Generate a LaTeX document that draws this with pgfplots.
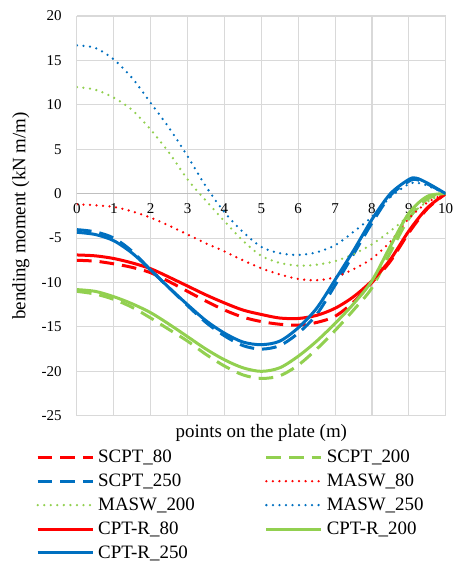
\documentclass[border=0pt]{standalone}
\usepackage{fontspec}
\setmainfont{Liberation Serif}
\usepackage{pgfplots}
\pgfplotsset{compat=1.18}
\definecolor{cred}{RGB}{255,0,0}
\definecolor{cgreen}{RGB}{146,208,80}
\definecolor{cblue}{RGB}{0,112,192}
\definecolor{cgrid}{RGB}{217,217,217}
\definecolor{caxis}{RGB}{191,191,191}
\begin{document}
\begin{tikzpicture}
\begin{axis}[
  scale only axis,
  width=276.75pt, height=300pt,
  xmin=0, xmax=10, ymin=-25, ymax=20,
  xtick={0,1,2,3,4,5,6,7,8,9,10},
  xticklabels={0,1,2,3,4,5,6,7,8,9,10},
  ytick={-25,-20,-15,-10,-5,0,5,10,15,20},
  yticklabels={-25,-20,-15,-10,-5,0,5,10,15,20},
  major tick length=0pt,
  axis line style={draw=none},
  grid=major,
  major grid style={draw=cgrid, line width=0.8pt},
  tick label style={font=\fontsize{11.25}{13}\selectfont},
  xticklabel style={yshift=163pt},
  yticklabel style={xshift=-8pt},
  label style={font=\fontsize{14.2}{17}\selectfont},
  xlabel={points on the plate (m)},
  xlabel style={at={(axis description cs:0.5,0)}, anchor=center, yshift=-13pt},
  ylabel={bending moment (kN m/m)},
  ylabel style={at={(axis description cs:-0.152,0.5)}, anchor=center},
  legend columns=2,
  legend cell align=left,
  legend image code/.code={\draw[#1] (0pt,0pt) -- (41.25pt,0pt);},
  legend style={draw=none, fill=none, inner sep=0pt,
    font=\fontsize{14.2}{17}\selectfont,
    at={(axis description cs:0,0)}, anchor=north west,
    xshift=-30.75pt, yshift=-25.5pt,
    row sep=7pt,
    nodes={inner sep=0pt},
    /tikz/every odd column/.append style={column sep=3pt},
    /tikz/every even column/.append style={column sep=52.5pt}},
  solidl/.style={line width=2.25pt, smooth},
  dashedl/.style={line width=2.25pt, smooth, dash pattern=on 11pt off 6pt},
  dottedl/.style={line width=1.9pt, smooth, line cap=round, dash pattern=on 0pt off 4.9pt},
]
\draw[caxis, line width=1pt] (axis cs:0,0) -- (axis cs:10,0);
% SCPT_80
\addplot[cred, dashedl] coordinates {(0,-7.5)(0.5,-7.6)(1,-7.9)(1.5,-8.3)(2,-8.9)(2.5,-9.9)(3,-11.0)(3.5,-12.1)(4,-13.1)(4.5,-13.9)(5,-14.4)(5.5,-14.7)(6,-14.8)(6.5,-14.5)(7,-13.8)(7.5,-12.2)(8,-10.0)(8.5,-7.6)(9,-4.4)(9.5,-1.7)(10,0)};
\addlegendentry{SCPT\_80}
% SCPT_200
\addplot[cgreen, dashedl] coordinates {(0,-11.0)(0.5,-11.3)(1,-11.9)(1.5,-12.8)(2,-14.0)(2.5,-15.3)(3,-16.6)(3.5,-18.1)(4,-19.4)(4.5,-20.4)(5,-20.8)(5.5,-20.5)(6,-19.3)(6.5,-17.5)(7,-15.4)(7.5,-13.1)(8,-10.6)(8.5,-6.6)(9,-2.8)(9.5,-0.6)(10,0)};
\addlegendentry{SCPT\_200}
% SCPT_250
\addplot[cblue, dashedl] coordinates {(0,-4.05)(0.5,-4.3)(1,-5.0)(1.5,-6.5)(2,-8.6)(2.5,-10.6)(3,-12.6)(3.5,-14.5)(4,-16.0)(4.5,-17.1)(5,-17.5)(5.5,-17.1)(6,-15.7)(6.5,-13.6)(7,-10.3)(7.5,-6.8)(8,-3.3)(8.5,-0.2)(9,1.4)(9.2,1.6)(9.5,1.1)(10,0)};
\addlegendentry{SCPT\_250}
% MASW_80
\addplot[cred, dottedl] coordinates {(0,-1.2)(0.5,-1.3)(1,-1.5)(1.5,-2.0)(2,-2.7)(2.5,-3.6)(3,-4.6)(3.5,-5.6)(4,-6.5)(4.5,-7.5)(5,-8.4)(5.5,-9.1)(6,-9.6)(6.5,-9.75)(7,-9.4)(7.5,-8.5)(8,-7.3)(8.5,-5.4)(9,-2.8)(9.5,-1.0)(10,0)};
\addlegendentry{MASW\_80}
% MASW_200
\addplot[cgreen, dottedl] coordinates {(0,12.0)(0.5,11.7)(1,10.8)(1.5,9.4)(2,7.2)(2.5,4.6)(3,1.6)(3.5,-0.8)(4,-3.1)(4.5,-5.3)(5,-7.0)(5.5,-7.8)(6,-8.1)(6.5,-8.0)(7,-7.6)(7.5,-6.8)(8,-5.7)(8.5,-4.2)(9,-2.5)(9.5,-0.9)(10,0)};
\addlegendentry{MASW\_200}
% MASW_250
\addplot[cblue, dottedl] coordinates {(0,16.7)(0.5,16.4)(1,15.1)(1.5,13.0)(2,10.2)(2.5,7.4)(3,4.2)(3.5,0.8)(4,-2.1)(4.5,-4.3)(5,-6.0)(5.5,-6.7)(6,-6.9)(6.5,-6.6)(7,-5.8)(7.5,-4.3)(8,-2.6)(8.5,-0.4)(9,1.1)(9.25,1.2)(9.5,0.9)(10,0)};
\addlegendentry{MASW\_250}
% CPT-R_80
\addplot[cred, solidl] coordinates {(0,-6.9)(0.5,-7.0)(1,-7.3)(1.5,-7.8)(2,-8.45)(2.5,-9.4)(3,-10.4)(3.5,-11.4)(4,-12.3)(4.5,-13.1)(5,-13.6)(5.5,-14.0)(6,-14.05)(6.5,-13.7)(7,-12.9)(7.5,-11.6)(8,-9.8)(8.5,-7.4)(9,-4.2)(9.5,-1.6)(10,0)};
\addlegendentry{CPT-R\_80}
% CPT-R_200
\addplot[cgreen, solidl] coordinates {(0,-10.8)(0.5,-11.0)(1,-11.6)(1.5,-12.4)(2,-13.4)(2.5,-14.7)(3,-16.1)(3.5,-17.5)(4,-18.7)(4.5,-19.6)(5,-20.0)(5.5,-19.6)(6,-18.3)(6.5,-16.6)(7,-14.6)(7.5,-12.4)(8,-9.8)(8.5,-5.9)(9,-2.2)(9.5,-0.3)(10,0)};
\addlegendentry{CPT-R\_200}
% CPT-R_250
\addplot[cblue, solidl] coordinates {(0,-4.35)(0.5,-4.6)(1,-5.3)(1.5,-6.7)(2,-8.6)(2.5,-10.6)(3,-12.5)(3.5,-14.3)(4,-15.7)(4.5,-16.7)(5,-17.0)(5.5,-16.6)(6,-15.1)(6.5,-12.9)(7,-9.7)(7.5,-6.4)(8,-2.9)(8.5,0.0)(9,1.6)(9.2,1.75)(9.5,1.2)(10,0)};
\addlegendentry{CPT-R\_250}
\end{axis}
\pgfresetboundingbox
\path (-57.75pt,-109pt) rectangle (282.75pt,312pt);
\end{tikzpicture}
\end{document}
